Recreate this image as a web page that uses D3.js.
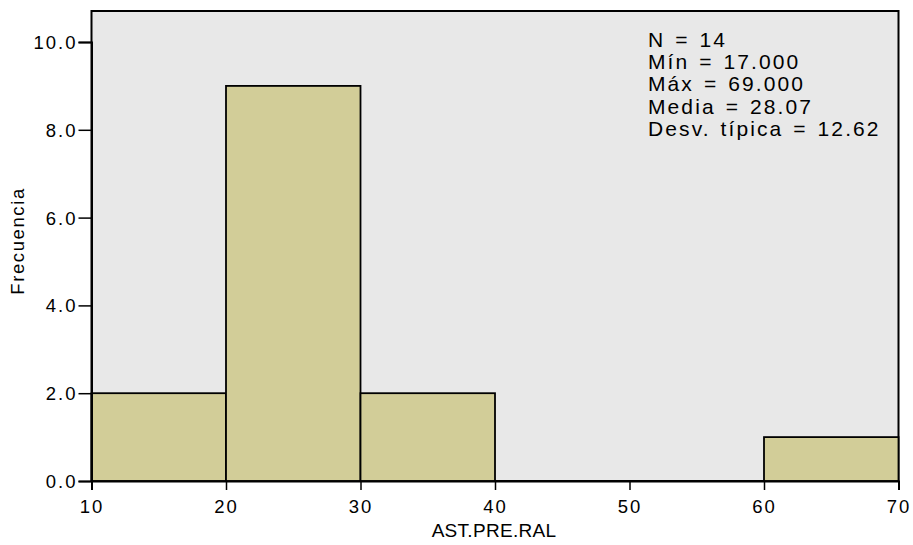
<!DOCTYPE html>
<html><head><meta charset="utf-8">
<script src="https://cdn.jsdelivr.net/npm/d3@7"></script>
<style>body{margin:0;background:#fff}svg{display:block}text{font-family:"Liberation Sans",Arial,sans-serif}</style>
</head><body><svg id="c" width="913" height="545"></svg>
<script>
const binStarts = [10, 20, 30, 40, 50, 60];
const binWidth = 10;
const counts = [2, 9, 2, 0, 0, 1];
const xTicks = [10, 20, 30, 40, 50, 60, 70];
const yTicks = [0, 2, 4, 6, 8, 10];
const statsLines = ["N = 14", "Mín = 17.000", "Máx = 69.000", "Media = 28.07", "Desv. típica = 12.62"];

const svg = d3.select("#c");
const m = {l: 91.5, r: 898.5, t: 11, b: 481};
const x = d3.scaleLinear().domain([10, 70]).range([m.l, m.r]);
const y = d3.scaleLinear().domain([0, 10]).range([m.b, 42]);

svg.append("rect").attr("x", m.l).attr("y", m.t).attr("width", m.r - m.l).attr("height", m.b - m.t)
  .attr("fill", "#e8e8e8").attr("stroke", "#000").attr("stroke-width", 2);

const bins = counts.map((c, i) => ({s: binStarts[i], c})).filter(d => d.c > 0);
svg.selectAll("rect.bar").data(bins)
  .join("rect").attr("class", "bar")
  .attr("x", d => x(d.s)).attr("width", d => x(d.s + binWidth) - x(d.s))
  .attr("y", d => y(d.c)).attr("height", d => y(0) - y(d.c))
  .attr("fill", "#d2cd98").attr("stroke", "#000").attr("stroke-width", 1.8);

const xa = svg.append("g").attr("transform", `translate(0,${m.b})`)
  .call(d3.axisBottom(x).tickValues(xTicks).tickFormat(d3.format("d")).tickSize(9).tickPadding(10));
const ya = svg.append("g").attr("transform", `translate(${m.l},0)`)
  .call(d3.axisLeft(y).tickValues(yTicks).tickFormat(d3.format(".1f")).tickSize(13).tickPadding(1));
[xa, ya].forEach(a => {
  a.select(".domain").attr("stroke-width", 2).attr("stroke", "#000");
  a.selectAll(".tick line").attr("stroke", "#000").attr("stroke-width", 1.5);
  a.selectAll("text").attr("font-size", 18.5).attr("fill", "#000").attr("letter-spacing", "2px")
    .attr("font-family", "Liberation Sans, Arial, sans-serif");
});
ya.selectAll("text").attr("dy", "0.35em");

svg.append("text").attr("x", 494).attr("y", 537).attr("text-anchor", "middle")
  .attr("font-size", 19).attr("letter-spacing", "0.3px").text("AST.PRE.RAL");
svg.append("text").attr("transform", "translate(24,241) rotate(-90)").attr("text-anchor", "middle")
  .attr("font-size", 18.5).attr("letter-spacing", "1.6px").text("Frecuencia");

const st = svg.append("text").attr("font-size", 21).attr("letter-spacing", "2.1px").attr("word-spacing", "2px");
statsLines.forEach((s, i) => st.append("tspan").attr("x", 648).attr("y", 47 + i * 22.2).text(s));
</script></body></html>
